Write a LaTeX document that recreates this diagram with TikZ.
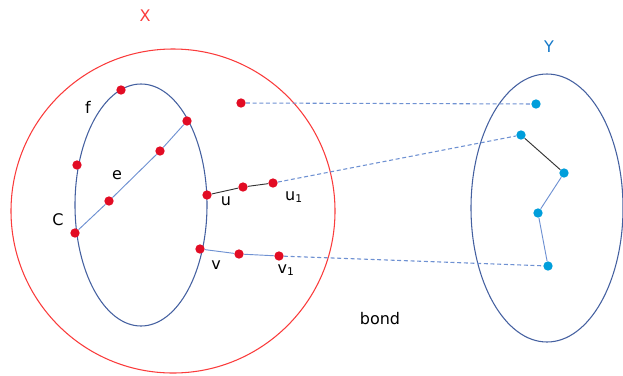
\documentclass[tikz,border=0pt]{standalone}
\usepackage{fontspec}
\setmainfont{DejaVu Sans}
\definecolor{dotred}{RGB}{226,12,36}
\definecolor{circred}{RGB}{250,60,60}
\definecolor{ellblue}{RGB}{68,96,160}
\definecolor{lineblue}{RGB}{110,145,210}
\definecolor{dotblue}{RGB}{0,158,219}
\definecolor{ylab}{RGB}{20,120,200}
\tikzset{
  rdot/.style={circle,fill=dotred,inner sep=0pt,minimum size=7pt},
  bdot/.style={circle,fill=dotblue,inner sep=0pt,minimum size=7pt},
  lab/.style={font=\fontsize{12}{14}\selectfont,inner sep=0pt},
  bline/.style={lineblue,line width=0.7pt},
  kline/.style={black!80,line width=0.7pt},
  dline/.style={lineblue,line width=0.8pt,dash pattern=on 3pt off 2pt},
}
\begin{document}
\begin{tikzpicture}[x=0.75pt,y=-0.75pt]
\useasboundingbox (0,0) rectangle (623,375);
% big red circle X
\draw[circred,line width=0.8pt] (173,211) ellipse [x radius=162,y radius=162];
% inner ellipse C
\draw[ellblue,line width=0.8pt] (141,205) ellipse [x radius=66,y radius=121];
% Y ellipse
\draw[ellblue,line width=0.8pt] (547,208) ellipse [x radius=76,y radius=134];
% labels
\node[lab,text=circred] (X) at (145,16) {X};
\node[lab,text=ylab] (Y) at (549,47) {Y};
\node[lab] (lf) at (88,107) {f};
\node[lab] (le) at (117,175) {e};
\node[lab] (lC) at (58,220) {C};
\node[lab] (lu) at (226,201) {u};
\node[lab] (lu1) at (294,197) {u\textsubscript{1}};
\node[lab] (lv) at (216,265) {v};
\node[lab] (lv1) at (286,270) {v\textsubscript{1}};
\node[lab] (lbond) at (380,319) {bond};
% red dots
\node[rdot] (f1) at (121,90) {};
\node[rdot] (e2) at (187,121) {};
\node[rdot] (e1) at (160,151) {};
\node[rdot] (f2) at (77,165) {};
\node[rdot] (e0) at (109,201) {};
\node[rdot] (c) at (75,233) {};
\node[rdot] (u) at (207,195) {};
\node[rdot] (um) at (243,187) {};
\node[rdot] (u1) at (273,183) {};
\node[rdot] (v) at (200,249) {};
\node[rdot] (vm) at (239,254) {};
\node[rdot] (v1) at (279,256) {};
\node[rdot] (p) at (241,103) {};
% blue dots
\node[bdot] (q) at (536,104) {};
\node[bdot] (y1) at (521,135) {};
\node[bdot] (y2) at (564,173) {};
\node[bdot] (y3) at (538,213) {};
\node[bdot] (y4) at (548,266) {};
% edges
\draw[bline] (c) -- (e0) -- (e1) -- (e2);
\draw[kline] (u) -- (um) -- (u1);
\draw[bline] (v) -- (vm) -- (v1);
\draw[kline] (y1) -- (y2);
\draw[bline] (y2) -- (y3) -- (y4);
% dashed maps
\draw[dline] (p) -- (q);
\draw[dline] (u1) -- (y1);
\draw[dline] (v1) -- (y4);
\end{tikzpicture}
\end{document}
